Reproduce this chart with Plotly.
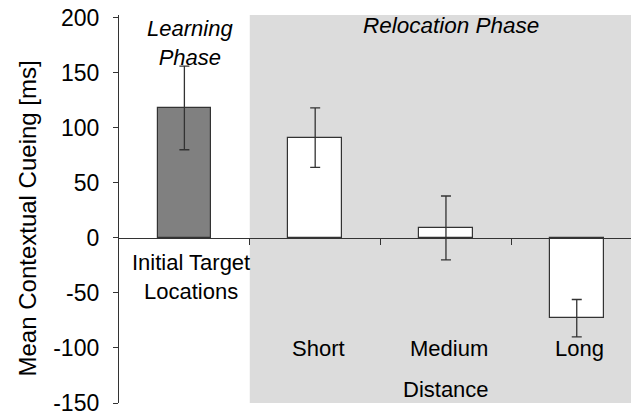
import plotly.graph_objects as go

# ---- data ----
categories = ["Initial Target<br>Locations", "Short", "Medium", "Long"]
means = [118, 91, 9, -73]
errors = [38, 27, 29, 17]
phases = ["Learning", "Relocation", "Relocation", "Relocation"]
y_ticks = [-150, -100, -50, 0, 50, 100, 150, 200]
y_tick_text = [str(v) for v in y_ticks]

FONT = "Liberation Sans, Arial, Helvetica, sans-serif"
LINE = "#333333"
xs = list(range(len(categories)))
colors = ["#808080" if p == "Learning" else "#ffffff" for p in phases]

fig = go.Figure()
fig.add_trace(go.Bar(
    x=xs, y=means, width=0.41,
    marker=dict(color=colors, line=dict(color=LINE, width=1.2)),
    error_y=dict(type="data", array=errors, visible=True,
                 color=LINE, thickness=1.3, width=5),
    showlegend=False,
))

# shaded relocation region: from boundary between first and second category to the end
first_reloc = phases.index("Relocation")
fig.add_shape(type="rect", xref="x", yref="y",
              x0=first_reloc - 0.5, x1=len(categories) - 0.5 + 0.2,
              y0=y_ticks[0], y1=202.4,
              fillcolor="#dcdcdc", line=dict(width=0), layer="below")

# category labels
label_font = dict(family=FONT, size=22, color="#000000")
for i, c in enumerate(categories):
    if phases[i] == "Learning":
        fig.add_annotation(x=i, y=-36, xref="x", yref="y", text=c, showarrow=False,
                           font=label_font, xshift=7, yanchor="middle")
    else:
        fig.add_annotation(x=i, y=-100.4, xref="x", yref="y", text=c, showarrow=False,
                           font=label_font, xshift=3, yanchor="middle")

fig.add_annotation(x=2, y=-137.6, xref="x", yref="y", text="Distance", showarrow=False,
                   font=label_font, yanchor="middle")
fig.add_annotation(x=0, y=177, xref="x", yref="y", text="<i>Learning<br>Phase</i>",
                   showarrow=False, font=label_font, xshift=6, yanchor="middle")
fig.add_annotation(x=2, y=193, xref="x", yref="y", text="<i>Relocation Phase</i>",
                   showarrow=False, font=dict(family=FONT, size=22.5, color="#000000"),
                   xshift=5, yanchor="middle")

# y axis title
fig.add_annotation(x=-0.175, y=0.4755, xref="paper", yref="paper",
                   text="Mean Contextual Cueing [ms]", textangle=-90, showarrow=False,
                   font=dict(family=FONT, size=24, color="#000000"),
                   xanchor="center", yanchor="middle")

yr = [-150, 202.4]
zero_pos = (0 - yr[0]) / (yr[1] - yr[0])

fig.update_layout(
    width=631, height=409,
    margin=dict(l=111, r=0, t=7, b=14),
    paper_bgcolor="white", plot_bgcolor="white",
    font=dict(family=FONT, size=22, color="#000000"),
    bargap=0,
    xaxis=dict(
        range=[-0.5, 3.476], anchor="free", position=zero_pos, automargin=False,
        showline=True, linecolor=LINE, linewidth=1.3,
        tickmode="array", tickvals=[i + 0.5 for i in range(len(categories) - 1)],
        ticks="outside", ticklen=6, tickcolor=LINE, tickwidth=1.3,
        showticklabels=False, showgrid=False, zeroline=False,
    ),
    yaxis=dict(
        range=yr, tickmode="array", tickvals=y_ticks, ticktext=y_tick_text,
        automargin=False, ticklabeloverflow="allow",
        ticks="outside", ticklen=5, tickcolor=LINE, tickwidth=1.3,
        showline=True, linecolor=LINE, linewidth=1.3,
        showgrid=False, zeroline=False,
        tickfont=dict(family=FONT, size=23),
        ticklabelstandoff=9,
    ),
)

fig.write_html("out.html")
